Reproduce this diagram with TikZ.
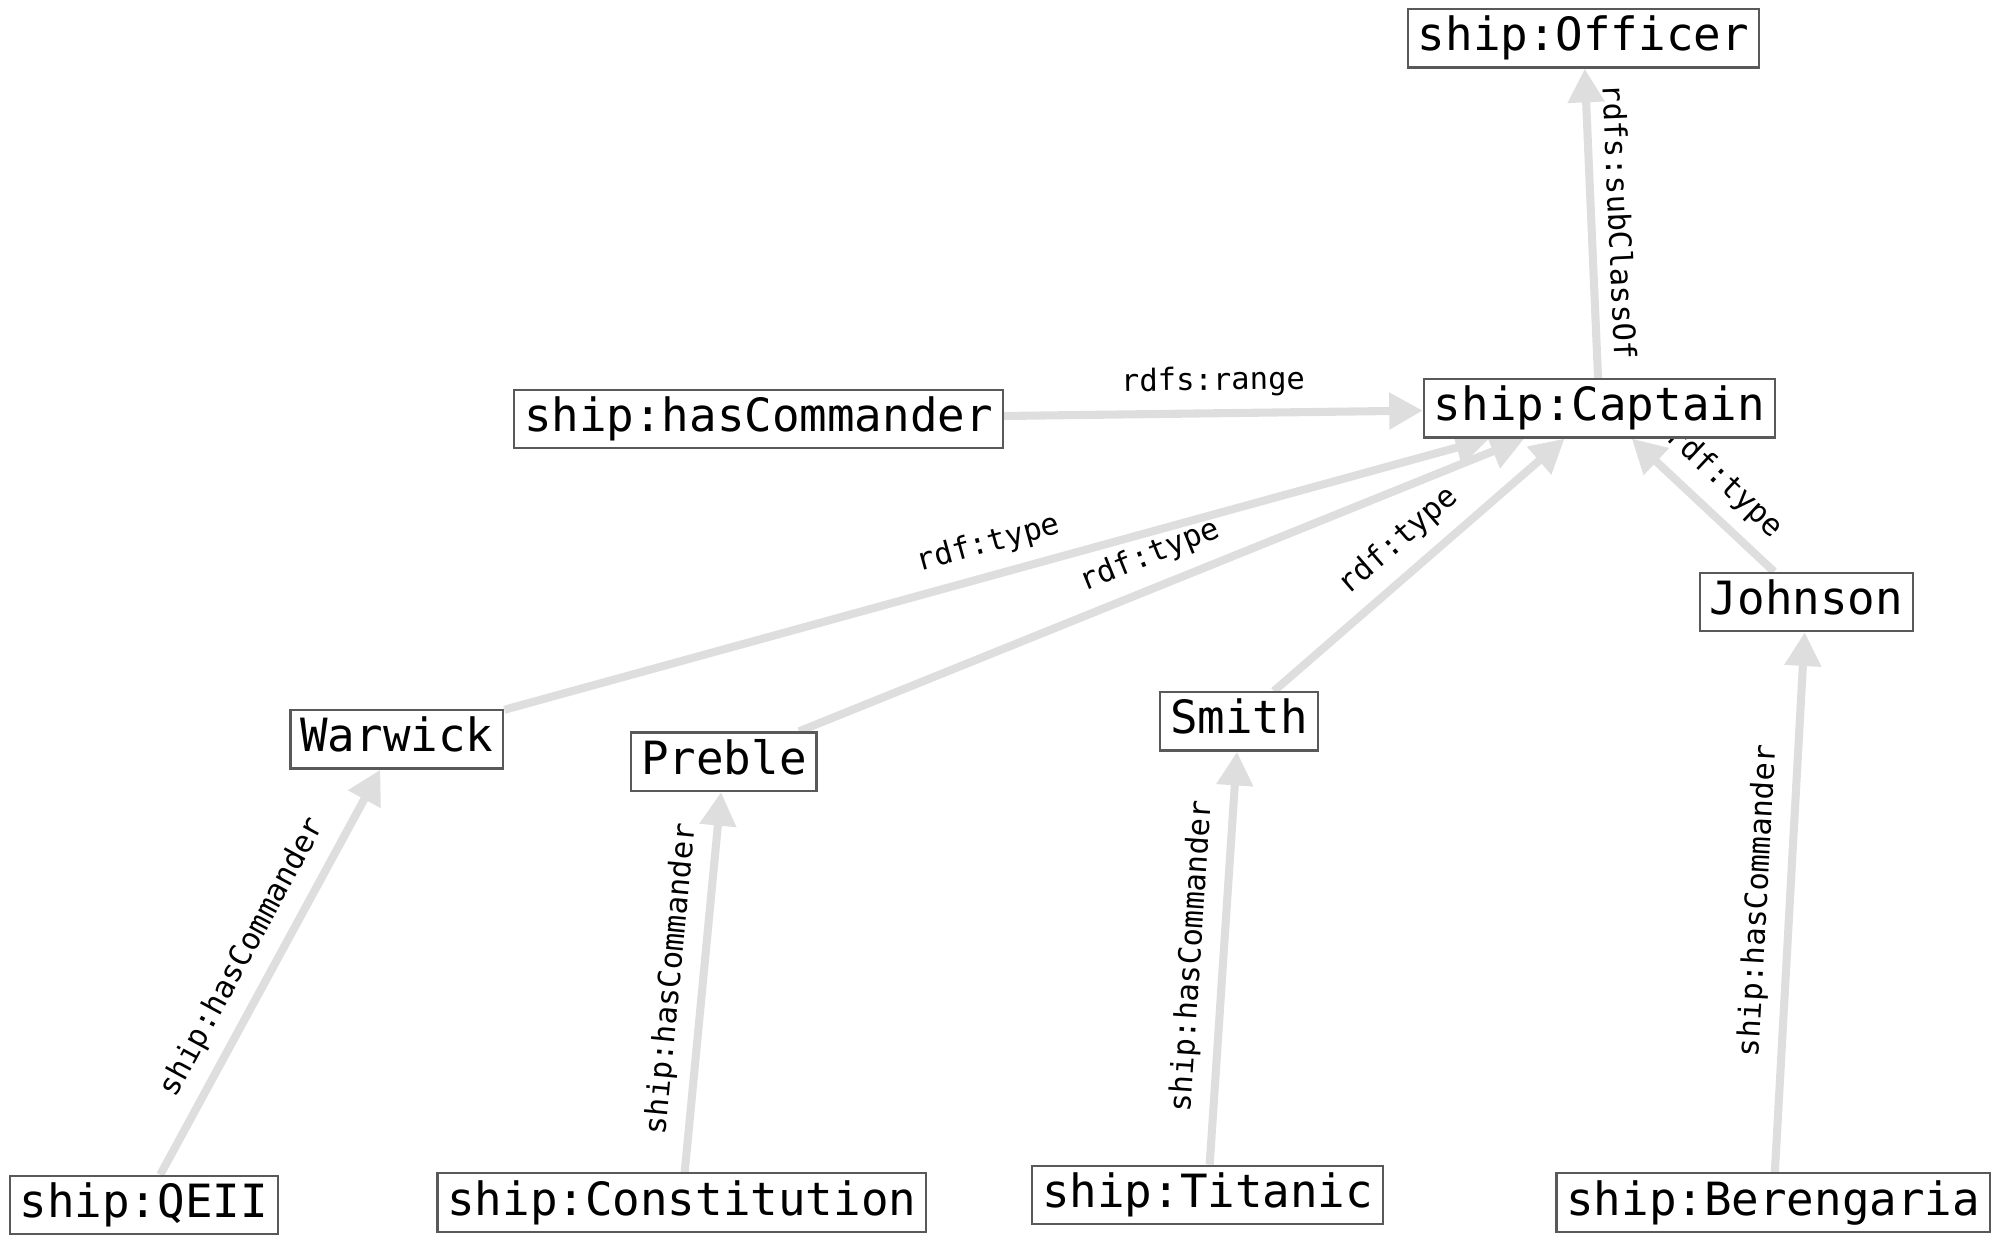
\documentclass[tikz,border=0pt]{standalone}
\usepackage{fontspec}
\setmonofont{DejaVu Sans Mono}
\usepackage{tikz}
\usetikzlibrary{arrows.meta,backgrounds}
\tikzset{res/.style={draw=black!65,fill=white,line width=.5pt,inner xsep=2.2pt,inner ysep=1.5pt,text height=.78em,text depth=.22em,font=\ttfamily\fontsize{10.2}{12}\selectfont}}
\tikzset{rel/.style={draw=black!13,line width=1.8pt,-{Triangle[length=7.5pt,width=7.8pt]}}}
\tikzset{lbl/.style={sloped,above=0.8pt,inner sep=2pt,font=\ttfamily\fontsize{6.8}{8}\selectfont}}

\begin{document}
\begin{tikzpicture}
        \useasboundingbox (0,0) rectangle (15.65,-9.766);
        %Classes and property
        \node[res] (officer) at (12.39,-0.30) {ship:Officer};
        \node[res] (captain) at (12.515,-3.195) {ship:Captain};
        \node[res] (hascmd) at (5.935,-3.28) {ship:hasCommander};
        %Captains
        \node[res] (warwick) at (3.105,-5.785) {Warwick};
        \node[res] (preble) at (5.665,-5.96) {Preble};
        \node[res] (smith) at (9.695,-5.645) {Smith};
        \node[res] (johnson) at (14.135,-4.71) {Johnson};
        %Ships
        \node[res] (qeii) at (1.125,-9.43) {ship:QEII};
        \node[res] (constitution) at (5.335,-9.41) {ship:Constitution};
        \node[res] (titanic) at (9.45,-9.35) {ship:Titanic};
        \node[res] (berengaria) at (13.875,-9.41) {ship:Berengaria};
        
        \begin{pgfonlayer}{background}
        \draw[rel] (captain) -- node[lbl]{rdfs:subClassOf} (officer);
        \draw[rel] (hascmd) -- node[lbl]{rdfs:range} (captain);
        %rdf:type
        \draw[rel] (warwick) -- node[lbl]{rdf:type} (captain);
        \draw[rel] (preble) -- node[lbl]{rdf:type} (captain);
        \draw[rel] (smith) -- node[lbl]{rdf:type} (captain);
        \draw[rel] (johnson) -- node[lbl]{rdf:type} (captain);
        %ship:hasCommander
        \draw[rel] (qeii) -- node[lbl]{ship:hasCommander} (warwick);
        \draw[rel] (constitution) -- node[lbl]{ship:hasCommander} (preble);
        \draw[rel] (titanic) -- node[lbl]{ship:hasCommander} (smith);
        \draw[rel] (berengaria) -- node[lbl]{ship:hasCommander} (johnson);
        \end{pgfonlayer}
\end{tikzpicture}
\end{document}
